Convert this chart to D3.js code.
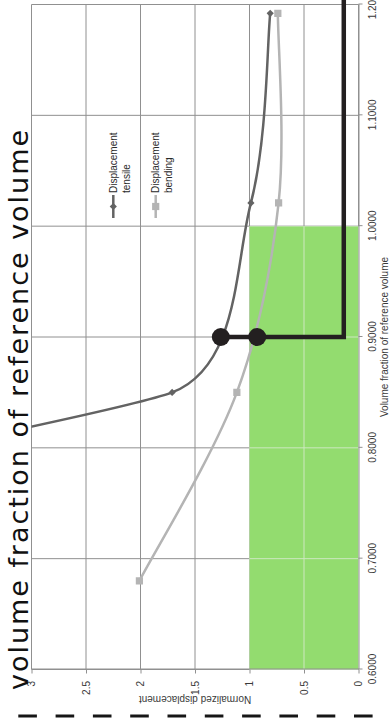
<!DOCTYPE html>
<html><head><meta charset="utf-8">
<script src="https://cdn.jsdelivr.net/npm/d3@7"></script>
<style>body{margin:0;background:#fff;} svg{display:block;}</style>
</head><body>
<svg id="c" width="392" height="727"></svg>
<script>
// ---- data ----
const volumeFractions = [0.68, 0.85, 1.021, 1.192];
const tensileValues   = [10, 1.71, 0.987, 0.81];
const bendingValues   = [2.01, 1.116, 0.733, 0.74];
const seriesLine1 = ["Displacement", "Displacement"];
const seriesLine2 = ["tensile", "bending"];
const vfTicks   = [0.6, 0.7, 0.8, 0.9, 1.0, 1.1, 1.2];
const dispTicks = [0, 0.5, 1, 1.5, 2, 2.5, 3];
const greenVF   = [0.6, 1.0];
const greenDisp = [0, 1];
const markerVF  = [0.9, 0.9];
const markerDisp = [1.263, 0.929];
const guideDisp = [1.263, 0.135, 0.135];
const guideVF   = [0.9, 0.9, 1.215];
const chartTitle = "volume fraction of reference volume";
const xTitle = "Volume fraction of reference volume";
const yTitle = "Normalized displacement";

const svg = d3.select("#c");
const W = 727;
// whole chart is drawn in its natural orientation, then turned 90° counter-clockwise
const g = svg.append("g").attr("transform", `translate(0,${W}) rotate(-90)`);

const x = d3.scaleLinear().domain([0.6, 1.2]).range([57.5, 722.5]);
const y = d3.scaleLinear().domain([0, 3]).range([358.5, 31.5]);

const gridCol = "#909090";
const font = "'Liberation Sans', Arial, sans-serif";

g.append("clipPath").attr("id", "plotClip").append("rect")
  .attr("x", x(0.6)).attr("y", y(3)).attr("width", x(1.2) - x(0.6)).attr("height", y(0) - y(3));
g.append("clipPath").attr("id", "greenClip").append("rect")
  .attr("x", x(greenVF[0]) - 1).attr("y", y(greenDisp[1])).attr("width", x(greenVF[1]) - x(greenVF[0]) + 1).attr("height", y(greenDisp[0]) - y(greenDisp[1]) + 1);

function drawGrid(sel, col) {
  sel.selectAll("line.v").data(vfTicks).join("line").attr("class", "v")
    .attr("x1", d => x(d)).attr("x2", d => x(d)).attr("y1", y(0)).attr("y2", y(3))
    .attr("stroke", col).attr("stroke-width", 1);
  sel.selectAll("line.h").data(dispTicks).join("line").attr("class", "h")
    .attr("x1", x(0.6)).attr("x2", x(1.2)).attr("y1", d => y(d)).attr("y2", d => y(d))
    .attr("stroke", col).attr("stroke-width", 1);
}
drawGrid(g.append("g"), gridCol);

// green zone
g.append("rect")
  .attr("x", x(greenVF[0])).attr("y", y(greenDisp[1]))
  .attr("width", x(greenVF[1]) - x(greenVF[0])).attr("height", y(greenDisp[0]) - y(greenDisp[1]))
  .attr("fill", "#93dc6f");
drawGrid(g.append("g").attr("clip-path", "url(#greenClip)"), "#cde8c0");

// axes
const xAxis = g.append("g").attr("transform", `translate(0,${y(0)})`)
  .call(d3.axisBottom(x).tickValues(vfTicks).tickFormat(d3.format(".4f")).tickSize(4).tickSizeOuter(0).tickPadding(6));
const yAxis = g.append("g").attr("transform", `translate(${x(0.6)},0)`)
  .call(d3.axisLeft(y).tickValues(dispTicks).tickFormat(d3.format("~g")).tickSize(4).tickSizeOuter(0).tickPadding(7.5));
[xAxis, yAxis].forEach(a => {
  a.select(".domain").attr("stroke", gridCol);
  a.selectAll(".tick line").attr("stroke", gridCol);
  a.selectAll(".tick text").attr("fill", "#3a3a3a").style("font-family", font).style("font-size", "10px");
});

// Excel-like smoothed line
function excelSmooth(pts, k) {
  const p = d3.path(), n = pts.length;
  const dist = (a, b) => Math.hypot(b[0] - a[0], b[1] - a[1]);
  function handle(i) {
    const prev = pts[Math.max(i - 1, 0)], next = pts[Math.min(i + 1, n - 1)];
    const tx = next[0] - prev[0], ty = next[1] - prev[1];
    const tl = Math.hypot(tx, ty);
    if (!tl) return [0, 0];
    const dP = i > 0 ? dist(pts[i - 1], pts[i]) : Infinity;
    const dN = i < n - 1 ? dist(pts[i], pts[i + 1]) : Infinity;
    const L = Math.min(tl / 6, k * Math.min(dP, dN));
    return [tx / tl * L, ty / tl * L];
  }
  p.moveTo(pts[0][0], pts[0][1]);
  for (let i = 0; i < n - 1; i++) {
    const h0 = handle(i), h1 = handle(i + 1);
    p.bezierCurveTo(pts[i][0] + h0[0], pts[i][1] + h0[1],
                    pts[i + 1][0] - h1[0], pts[i + 1][1] - h1[1],
                    pts[i + 1][0], pts[i + 1][1]);
  }
  return p.toString();
}

const series = [
  {vals: tensileValues, col: "#636363", sym: "diamond"},
  {vals: bendingValues, col: "#b4b4b4", sym: "square"}
];
const plot = g.append("g").attr("clip-path", "url(#plotClip)");
const diamond = d3.symbol().type(d3.symbolSquare).size(26);
const square = d3.symbol().type(d3.symbolSquare).size(52);
series.slice().reverse().forEach(s => {
  const pts = volumeFractions.map((v, i) => [x(v), y(s.vals[i])]);
  plot.append("path").attr("d", excelSmooth(pts, 0.35)).attr("fill", "none")
    .attr("stroke", s.col).attr("stroke-width", 2.5);
  plot.selectAll(null).data(pts).join("path")
    .attr("transform", p => `translate(${p[0]},${p[1]})` + (s.sym === "diamond" ? " rotate(45)" : ""))
    .attr("d", s.sym === "diamond" ? diamond : square)
    .attr("fill", s.col);
});

// legend
const leg = g.append("g").style("font-family", font).style("font-size", "10px");
[113.3, 155.7].forEach((ly, i) => {
  const s = series[i];
  leg.append("line").attr("x1", 509).attr("x2", 532).attr("y1", ly).attr("y2", ly)
    .attr("stroke", s.col).attr("stroke-width", 2.5);
  leg.append("path").attr("transform", `translate(520.5,${ly})` + (s.sym === "diamond" ? " rotate(45)" : ""))
    .attr("d", s.sym === "diamond" ? diamond : square).attr("fill", s.col);
  leg.append("text").attr("x", 534).attr("y", ly).attr("dy", "0.35em").attr("fill", "#2a2a2a").text(seriesLine1[i]);
  leg.append("text").attr("x", 534).attr("y", ly + 13).attr("dy", "0.35em").attr("fill", "#2a2a2a").text(seriesLine2[i]);
});

// axis titles
g.append("text").attr("x", (x(0.6) + x(1.2)) / 2).attr("y", 388).attr("text-anchor", "middle")
  .style("font-family", font).style("font-size", "10px").attr("fill", "#3a3a3a").text(xTitle);
g.append("text").attr("transform", `translate(31.5,${(y(0) + y(3)) / 2}) rotate(-90)`).attr("text-anchor", "middle")
  .style("font-family", font).style("font-size", "10px").attr("fill", "#3a3a3a").text(yTitle);

// chart title: starts near the bottom edge of the page; letter spacing fills its measured span
const titleStart = 37, titleSpan = 560;
const title = g.append("text").attr("x", titleStart).attr("y", 28).attr("text-anchor", "start")
  .style("font-family", "'DejaVu Sans', Verdana, sans-serif").style("font-size", "27px").attr("fill", "#111")
  .text(chartTitle);
const natural = title.node().getComputedTextLength();
if (natural > 0 && natural < titleSpan)
  title.style("letter-spacing", ((titleSpan - natural) / (chartTitle.length - 1)).toFixed(2) + "px");

// annotations: guide line and dots
g.append("path")
  .attr("d", d3.line()(guideVF.map((v, i) => [x(v), y(guideDisp[i])])))
  .attr("fill", "none").attr("stroke", "#231f20").attr("stroke-width", 4.5).attr("stroke-linejoin", "miter");
g.selectAll("circle.dot").data(markerVF).join("circle").attr("class", "dot")
  .attr("cx", d => x(d)).attr("cy", (d, i) => y(markerDisp[i])).attr("r", 9).attr("fill", "#231f20");

// dashed rule along the far edge
g.append("line").attr("x1", 11).attr("x2", 11).attr("y1", 18.3).attr("y2", 374)
  .attr("stroke", "#161616").attr("stroke-width", 3.2).attr("stroke-dasharray", "18.6 18.7");
</script>
</body></html>
